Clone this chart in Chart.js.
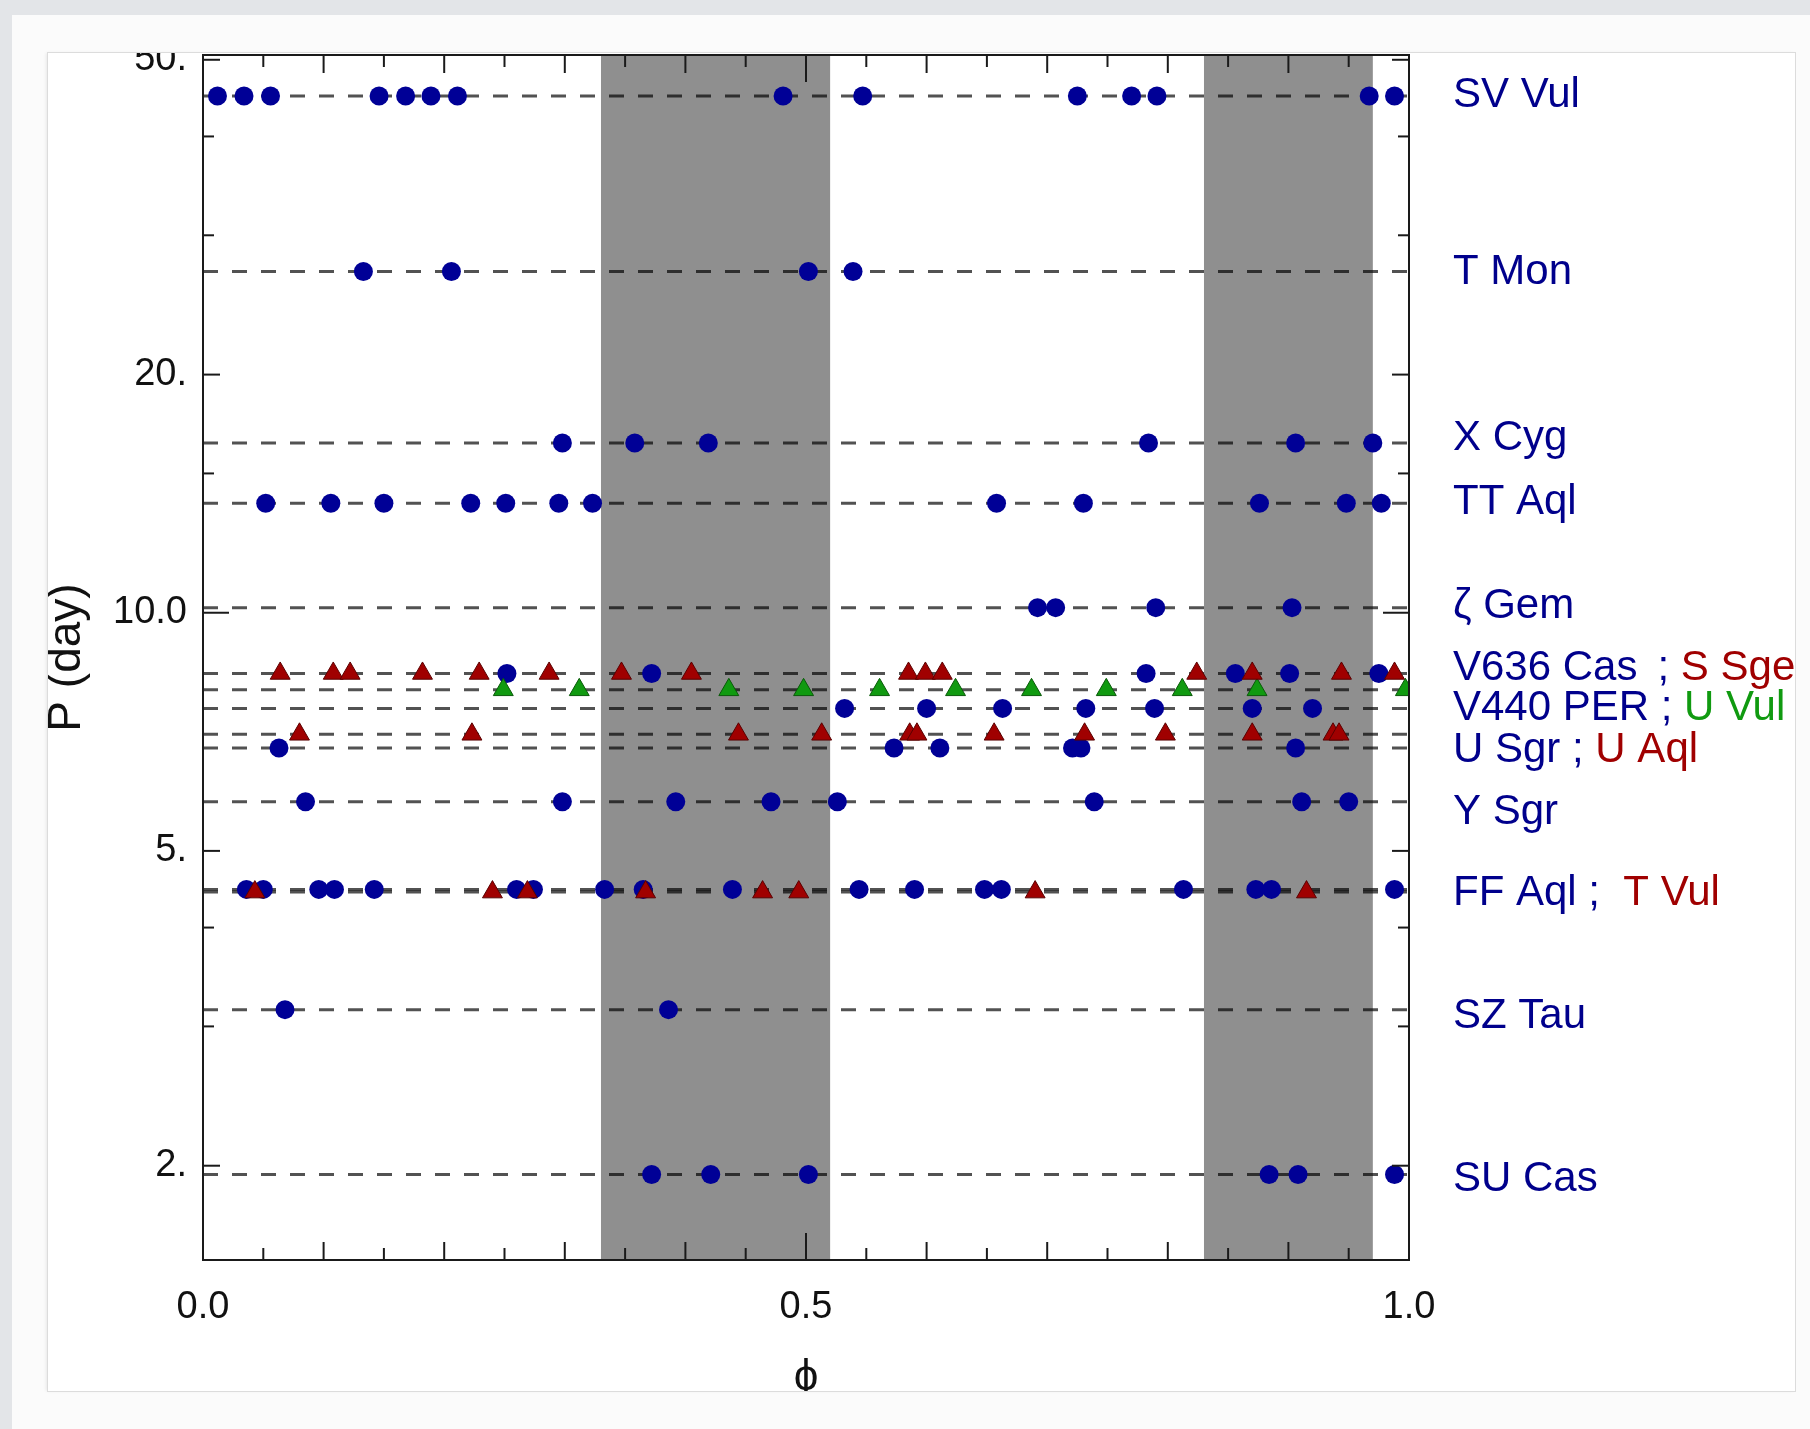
<!DOCTYPE html>
<html>
<head>
<meta charset="utf-8">
<title>P (day) vs phase</title>
<style>
  html, body { margin: 0; padding: 0; width: 1810px; height: 1429px; overflow: hidden; background: #e3e5e8; }
  #card { position: absolute; left: 12px; top: 15px; width: 1798px; height: 1414px; background: #fbfbfb; }
  #box { position: absolute; left: 48px; top: 53px; width: 1747px; height: 1338px; background: #fff; box-shadow: 0 0 0 1px #dcdcdc, -2px 0 3px rgba(0,0,0,0.08); }
  canvas { display: block; }
</style>
<script src="https://cdn.jsdelivr.net/npm/chart.js@4.4.1/dist/chart.umd.min.js"></script>
</head>
<body>
<div id="card"></div>
<div id="box"><canvas id="myChart" width="1747" height="1338"></canvas></div>
<script>
const svVul = [0.012, 0.034, 0.056, 0.146, 0.168, 0.189, 0.211, 0.481, 0.547, 0.725, 0.770, 0.791, 0.967, 0.988];
const tMon = [0.133, 0.206, 0.502, 0.539];
const xCyg = [0.298, 0.358, 0.419, 0.784, 0.906, 0.970];
const ttAql = [0.052, 0.106, 0.150, 0.222, 0.251, 0.295, 0.323, 0.658, 0.730, 0.876, 0.948, 0.977];
const zetaGem = [0.692, 0.707, 0.790, 0.903];
const v636Cas = [0.252, 0.372, 0.782, 0.856, 0.901, 0.975];
const sSge = [0.064, 0.108, 0.122, 0.182, 0.229, 0.287, 0.347, 0.405, 0.585, 0.599, 0.613, 0.824, 0.870, 0.944, 0.988];
const uVul = [0.249, 0.312, 0.436, 0.498, 0.561, 0.624, 0.687, 0.749, 0.812, 0.874, 0.997];
const v440Per = [0.532, 0.600, 0.663, 0.732, 0.789, 0.870, 0.920];
const uAql = [0.080, 0.223, 0.444, 0.513, 0.586, 0.592, 0.656, 0.731, 0.798, 0.870, 0.937, 0.942];
const uSgr = [0.063, 0.573, 0.611, 0.721, 0.728, 0.906];
const ySgr = [0.085, 0.298, 0.392, 0.471, 0.526, 0.739, 0.911, 0.950];
const ffAql = [0.036, 0.050, 0.096, 0.109, 0.142, 0.260, 0.274, 0.333, 0.365, 0.439, 0.544, 0.590, 0.648, 0.662, 0.813, 0.873, 0.886, 0.988];
const tVul = [0.043, 0.240, 0.269, 0.367, 0.464, 0.494, 0.690, 0.915];
const szTau = [0.068, 0.386];
const suCas = [0.372, 0.421, 0.502, 0.884, 0.908, 0.988];

const starNames = ["SV Vul", "T Mon", "X Cyg", "TT Aql", "ζ Gem", "V636 Cas", "S Sge", "U Vul", "V440 Per", "U Aql", "U Sgr", "Y Sgr", "FF Aql", "T Vul", "SZ Tau", "SU Cas"];
const starPhases = [svVul, tMon, xCyg, ttAql, zetaGem, v636Cas, sSge, uVul, v440Per, uAql, uSgr, ySgr, ffAql, tVul, szTau, suCas];
const starPeriods = [45.0, 27.0, 16.39, 13.75, 10.15, 8.38, 8.38, 7.99, 7.57, 7.02, 6.745, 5.77, 4.47, 4.435, 3.15, 1.95];
const starMarker = ["b", "b", "b", "b", "b", "b", "r", "g", "b", "r", "b", "b", "b", "r", "b", "b"];

// dashed reference lines (one per distinct period)
const linePeriods = [45.0, 27.0, 16.39, 13.75, 10.15, 8.38, 7.99, 7.57, 7.02, 6.745, 5.77, 4.47, 4.435, 3.15, 1.95];

// shaded phase intervals
const bandStart = [0.33, 0.83];
const bandEnd = [0.52, 0.97];

// axis ticks
const xTickValues = [0, 0.5, 1];
const xTickLabels = ["0.0", "0.5", "1.0"];
const yTickValues = [2, 5, 10, 20, 50];
const yTickLabels = ["2.", "5.", "10.0", "20.", "50."];
const yMinorTicks = [3, 4, 15, 30, 40];

// star names on the right
const labelLeft = ["SV Vul", "T Mon", "X Cyg", "TT Aql", "ζ Gem", "V636 Cas\u2009 ; ", "V440 PER ; ", "U Sgr ; ", "Y Sgr", "FF Aql ;  ", "SZ Tau", "SU Cas"];
const labelRight = ["", "", "", "", "", "S Sge", "U Vul", "U Aql", "", "T Vul", "", ""];
const labelAt = [45.1, 26.9, 16.6, 13.8, 10.2, 8.5, 7.56, 6.69, 5.6, 4.42, 3.09, 1.92];

const navy = "#00008c";
const markerColor = { b: "#000096", r: "#a00000", g: "#109a10" };
const markerEdge = { b: "#000096", r: "#5a0000", g: "#0a5a0a" };
const FONT = '"Liberation Sans", Arial, Helvetica, sans-serif';

const datasets = [];
starPhases.forEach((phases, i) => {
  const k = starMarker[i];
  datasets.push({
    label: starNames[i],
    data: phases.map((p) => ({ x: p, y: starPeriods[i] })),
    pointStyle: k === "b" ? "circle" : "triangle",
    pointRadius: k === "b" ? 9.5 : 11.5,
    pointHoverRadius: k === "b" ? 9.5 : 11.5,
    backgroundColor: markerColor[k],
    borderColor: markerEdge[k],
    borderWidth: k === "b" ? 0 : 1,
    showLine: false,
    order: k === "b" ? 2 : 1,
    clip: 0,
  });
});
linePeriods.forEach((p) => {
  datasets.push({
    label: "",
    data: [{ x: 0, y: p }, { x: 1, y: p }],
    showLine: true,
    borderColor: "rgba(0,0,0,0.68)",
    borderWidth: 3,
    borderDash: [15, 14],
    pointRadius: 0,
    pointHoverRadius: 0,
    order: 10,
    clip: 0,
  });
});

function tick(c, x0, y0, x1, y1) {
  c.beginPath();
  c.moveTo(x0, y0);
  c.lineTo(x1, y1);
  c.stroke();
}

const framePlugin = {
  id: "frame",
  beforeDatasetsDraw(chart) {
    const { ctx, chartArea: a, scales: { x } } = chart;
    ctx.save();
    ctx.fillStyle = "#8f8f8f";
    bandStart.forEach((s, i) => {
      const x0 = x.getPixelForValue(s);
      const x1 = x.getPixelForValue(bandEnd[i]);
      ctx.fillRect(x0, a.top, x1 - x0, a.bottom - a.top);
    });
    ctx.restore();
  },
  afterDatasetsDraw(chart) {
    const { ctx, chartArea: a, scales: { x, y } } = chart;
    ctx.save();
    ctx.strokeStyle = "#1a1a1a";
    ctx.lineWidth = 2;
    ctx.strokeRect(a.left, a.top, a.right - a.left, a.bottom - a.top);

    // inward ticks on the phase axis, every 0.05
    for (let i = 0; i <= 20; i++) {
      const px = x.getPixelForValue(i / 20);
      const len = i % 10 === 0 ? 27 : i % 2 === 0 ? 18 : 12;
      tick(ctx, px, a.bottom, px, a.bottom - len);
      tick(ctx, px, a.top, px, a.top + len);
    }
    // inward ticks on the period axis
    yTickValues.concat(yMinorTicks).forEach((v) => {
      const py = y.getPixelForValue(v);
      const len = v === 10 ? 26 : yTickValues.includes(v) ? 17 : 11;
      tick(ctx, a.left, py, a.left + len, py);
      tick(ctx, a.right, py, a.right - len, py);
    });

    // star names
    ctx.font = "42px " + FONT;
    ctx.textBaseline = "middle";
    ctx.textAlign = "left";
    labelLeft.forEach((t, i) => {
      const ly = y.getPixelForValue(labelAt[i]);
      let lx = a.right + 44;
      ctx.fillStyle = navy;
      ctx.fillText(t, lx, ly);
      if (labelRight[i]) {
        lx += ctx.measureText(t).width;
        ctx.fillStyle = labelRight[i] === "U Vul" ? markerColor.g : markerColor.r;
        ctx.fillText(labelRight[i], lx, ly);
      }
    });
    ctx.restore();
  },
};

const ctx = document.querySelector("#myChart").getContext("2d");
const chart = new Chart(ctx, {
  type: "scatter",
  data: { datasets },
  options: {
    responsive: false,
    animation: false,
    layout: { autoPadding: false, padding: { top: 2, right: 386, left: 0, bottom: 0 } },
    plugins: { legend: { display: false }, tooltip: { enabled: false } },
    scales: {
      x: {
        type: "linear",
        min: 0,
        max: 1,
        afterBuildTicks(s) {
          s.ticks = xTickValues.map((v) => ({ value: v }));
        },
        afterFit(s) {
          s.height = 131;
          s.paddingLeft = 0;
          s.paddingRight = 0;
        },
        grid: { display: false, drawTicks: false },
        border: { display: false },
        ticks: {
          autoSkip: false,
          maxRotation: 0,
          padding: 25,
          color: "#111",
          font: { family: FONT, size: 38 },
          callback: (v) => {
            const i = xTickValues.findIndex((t) => Math.abs(t - v) < 1e-6);
            return i < 0 ? "" : xTickLabels[i];
          },
        },
        title: {
          display: true,
          text: "ϕ",
          color: "#111",
          padding: 0,
          font: { family: FONT, size: 44, lineHeight: "26px" },
        },
      },
      y: {
        type: "logarithmic",
        min: 1.52,
        max: 50.7,
        afterBuildTicks(s) {
          s.ticks = yTickValues.concat(yMinorTicks).map((v) => ({ value: v }));
        },
        afterFit(s) {
          s.width = 155;
          s.paddingTop = 0;
          s.paddingBottom = 0;
        },
        grid: { display: false, drawTicks: false },
        border: { display: false },
        ticks: {
          autoSkip: false,
          padding: 16,
          color: "#111",
          font: { family: FONT, size: 38 },
          callback: (v) => {
            const i = yTickValues.indexOf(v);
            return i < 0 ? "" : yTickLabels[i];
          },
        },
        title: {
          display: true,
          text: "P (day)",
          color: "#111",
          padding: 0,
          font: { family: FONT, size: 46, lineHeight: "38px" },
        },
      },
    },
  },
  plugins: [framePlugin],
});
</script>
</body>
</html>
